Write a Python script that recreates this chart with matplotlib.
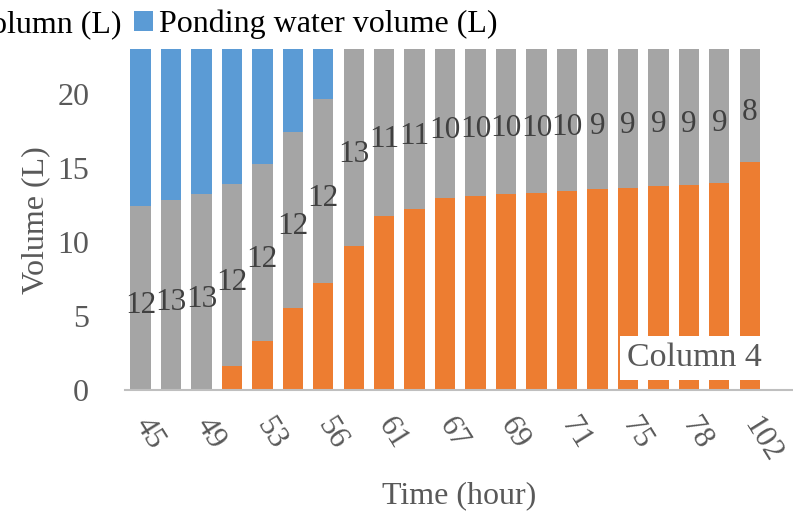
import matplotlib
matplotlib.use("Agg")
import matplotlib.pyplot as plt
import numpy as np

# ------------------------------
# Data
# ------------------------------
times = [45, 47, 49, 51, 53, 54, 56, 58, 61, 64, 67, 68, 69, 70, 71, 73, 75, 77, 78, 80, 102]
drained = [0, 0, 0, 1.6, 3.33, 5.57, 7.2, 9.74, 11.77, 12.22, 12.98, 13.12, 13.23,
           13.32, 13.44, 13.55, 13.66, 13.78, 13.86, 14.0, 15.42]
in_column = [12.45, 12.8, 13.2, 12.3, 11.9, 11.85, 12.45, 13.4, 11.4, 11.0, 10.2, 10.0,
             9.9, 9.8, 9.7, 9.48, 9.4, 9.3, 9.2, 9.1, 7.7]
ponding = [12.5, 12.0, 11.5, 10.9, 9.4, 7.2, 4.8, 0, 0, 0, 0, 0, 0, 0, 0, 0, 0, 0, 0, 0, 0]

series_names = ["Drained water volume (L)", "Water volume in column (L)", "Ponding water volume (L)"]
colors = ["#ED7D31", "#A5A5A5", "#5B9BD5"]

YMAX = 23

plt.rcParams['font.family'] = ['Liberation Serif', 'DejaVu Serif']

fig = plt.figure(figsize=(7.93, 5.17), dpi=100)
ax = fig.add_axes([0.158, 0.2456, 0.842, 0.659])

x = np.arange(len(times))
drained = np.array(drained)
in_column = np.array(in_column)
ponding = np.array(ponding)

b1 = ax.bar(x, drained, width=0.67, color=colors[0], label=series_names[0])
b2 = ax.bar(x, in_column, width=0.67, bottom=drained, color=colors[1], label=series_names[1])
b3 = ax.bar(x, ponding, width=0.67, bottom=drained + in_column, color=colors[2], label=series_names[2])

# labels on the column-water series, centred in the visible part of the segment
for xi, lo, v in zip(x, drained, in_column):
    hi = min(lo + v, YMAX)
    ax.text(xi, (lo + hi) / 2 - 0.25, f"{v:.0f}", ha="center", va="center_baseline",
            fontsize=22.5, color="#404040")

ax.set_ylim(0, YMAX)
ax.set_xlim(-0.5, 21.42)
ax.set_yticks([0, 5, 10, 15, 20])
ax.set_xticks(x[::2])
ax.set_xticklabels([str(t) for t in times[::2]])

for s in ["top", "right", "left"]:
    ax.spines[s].set_visible(False)
ax.spines["bottom"].set_color("#BFBFBF")
ax.spines["bottom"].set_linewidth(1.5)

ax.tick_params(axis="y", length=0, pad=26, labelsize=23, labelcolor="#595959")
ax.tick_params(axis="x", length=0, pad=21.6, labelsize=22.5, labelcolor="#595959")
for lab in ax.get_xticklabels():
    lab.set_rotation(-58)
    lab.set_ha("left")
    lab.set_va("center")
    lab.set_rotation_mode("anchor")

ax.set_ylabel("Volume (L)", fontsize=23, color="#595959")
ax.yaxis.set_label_coords(-0.112, 0.5)
ax.set_xlabel("Time (hour)", fontsize=23, color="#595959")
ax.xaxis.set_label_coords(0.5, -0.267)

ax.text(0.852, 0.094, "Column 4", transform=ax.transAxes, ha="center", va="center",
        fontsize=24.5, color="#595959",
        bbox=dict(boxstyle="square,pad=0.2", facecolor="white", edgecolor="none"))

fig.legend(handles=[b1, b2, b3], loc="upper right", bbox_to_anchor=(0.647, 1.012),
           ncol=3, frameon=False, fontsize=23, borderpad=0, handlelength=0.6,
           handleheight=0.6, handletextpad=0.16, columnspacing=0.4)

fig.savefig("out.png", dpi=100)
